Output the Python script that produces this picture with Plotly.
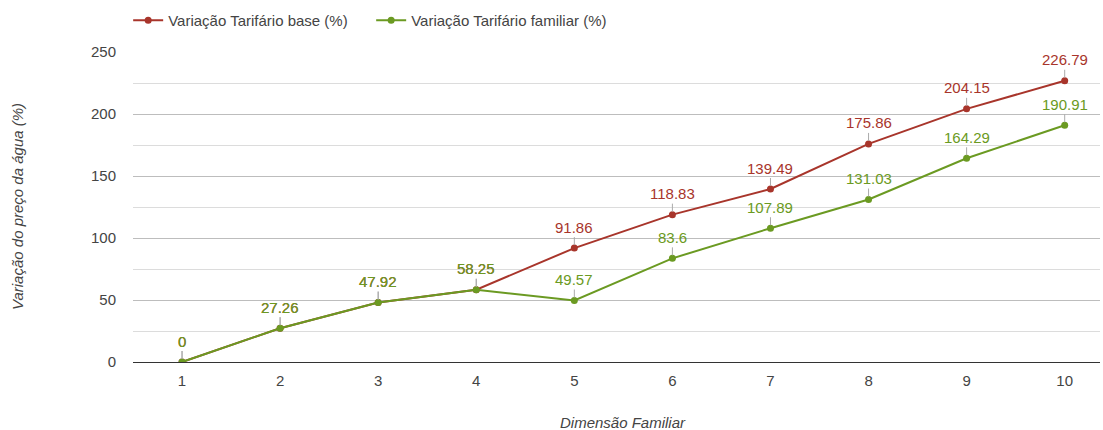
import plotly.graph_objects as go

dimensao = [1, 2, 3, 4, 5, 6, 7, 8, 9, 10]
base = [0, 27.26, 47.92, 58.25, 91.86, 118.83, 139.49, 175.86, 204.15, 226.79]
familiar = [0, 27.26, 47.92, 58.25, 49.57, 83.6, 107.89, 131.03, 164.29, 190.91]

RED = "#a8352b"
GREEN = "#6b9a22"
FONT = "Liberation Sans, Arial, sans-serif"

fig = go.Figure()
fig.add_trace(go.Scatter(x=dimensao, y=base, mode="lines+markers",
                         name="Variação Tarifário base (%)",
                         line=dict(color=RED, width=2), marker=dict(size=7, color=RED)))
fig.add_trace(go.Scatter(x=dimensao, y=familiar, mode="lines+markers",
                         name="Variação Tarifário familiar (%)",
                         line=dict(color=GREEN, width=2), marker=dict(size=7, color=GREEN)))

annotations = []
for vals, col in ((base, RED), (familiar, GREEN)):
    for xv, yv in zip(dimensao, vals):
        annotations.append(dict(x=xv, y=yv, xref="x", yref="y", text=f"{yv:g}",
                                showarrow=True, arrowhead=0, arrowwidth=1, arrowcolor="#aaaaaa",
                                ax=0, ay=-21, standoff=3,
                                font=dict(color=col, size=15, family=FONT)))

annotations.append(dict(text="<i>Dimensão Familiar</i>", xref="paper", yref="paper",
                        x=0.5067, y=0, xanchor="center", yanchor="middle", yshift=-60,
                        showarrow=False, font=dict(size=15, color="#444444", family=FONT)))
annotations.append(dict(text="<i>Variação do preço da água (%)</i>", xref="paper", yref="paper",
                        x=0, y=0.5, xanchor="center", yanchor="middle", xshift=-116,
                        textangle=-90, showarrow=False,
                        font=dict(size=15, color="#444444", family=FONT)))

fig.update_layout(
    width=1103, height=430,
    margin=dict(l=133, r=3, t=52, b=68),
    paper_bgcolor="white", plot_bgcolor="white",
    font=dict(family=FONT, size=15, color="#444444"),
    showlegend=True,
    legend=dict(orientation="h", x=-0.005, xanchor="left", y=1.155, yanchor="top",
                entrywidth=198, entrywidthmode="pixels",
                font=dict(size=15, color="#444444")),
    annotations=annotations,
    xaxis=dict(range=[0.5, 10.36], tickvals=dimensao, showgrid=False, zeroline=False,
               showline=False, ticks="", ticklabelstandoff=8, automargin=False),
    yaxis=dict(range=[0, 250], dtick=50, showgrid=True, gridcolor="#bdbdbd", gridwidth=1,
               minor=dict(dtick=25, showgrid=True, gridcolor="#dcdcdc", gridwidth=1),
               zeroline=True, zerolinecolor="#333333", zerolinewidth=1,
               ticks="", ticklabelstandoff=16, automargin=False),
)
fig.write_html("out.html", config={"displayModeBar": False})

with open("out.html", "r", encoding="utf-8") as f:
    html = f.read()
html = html.replace("<body>", '<body style="margin:0;padding:0;overflow:hidden">', 1)
with open("out.html", "w", encoding="utf-8") as f:
    f.write(html)
